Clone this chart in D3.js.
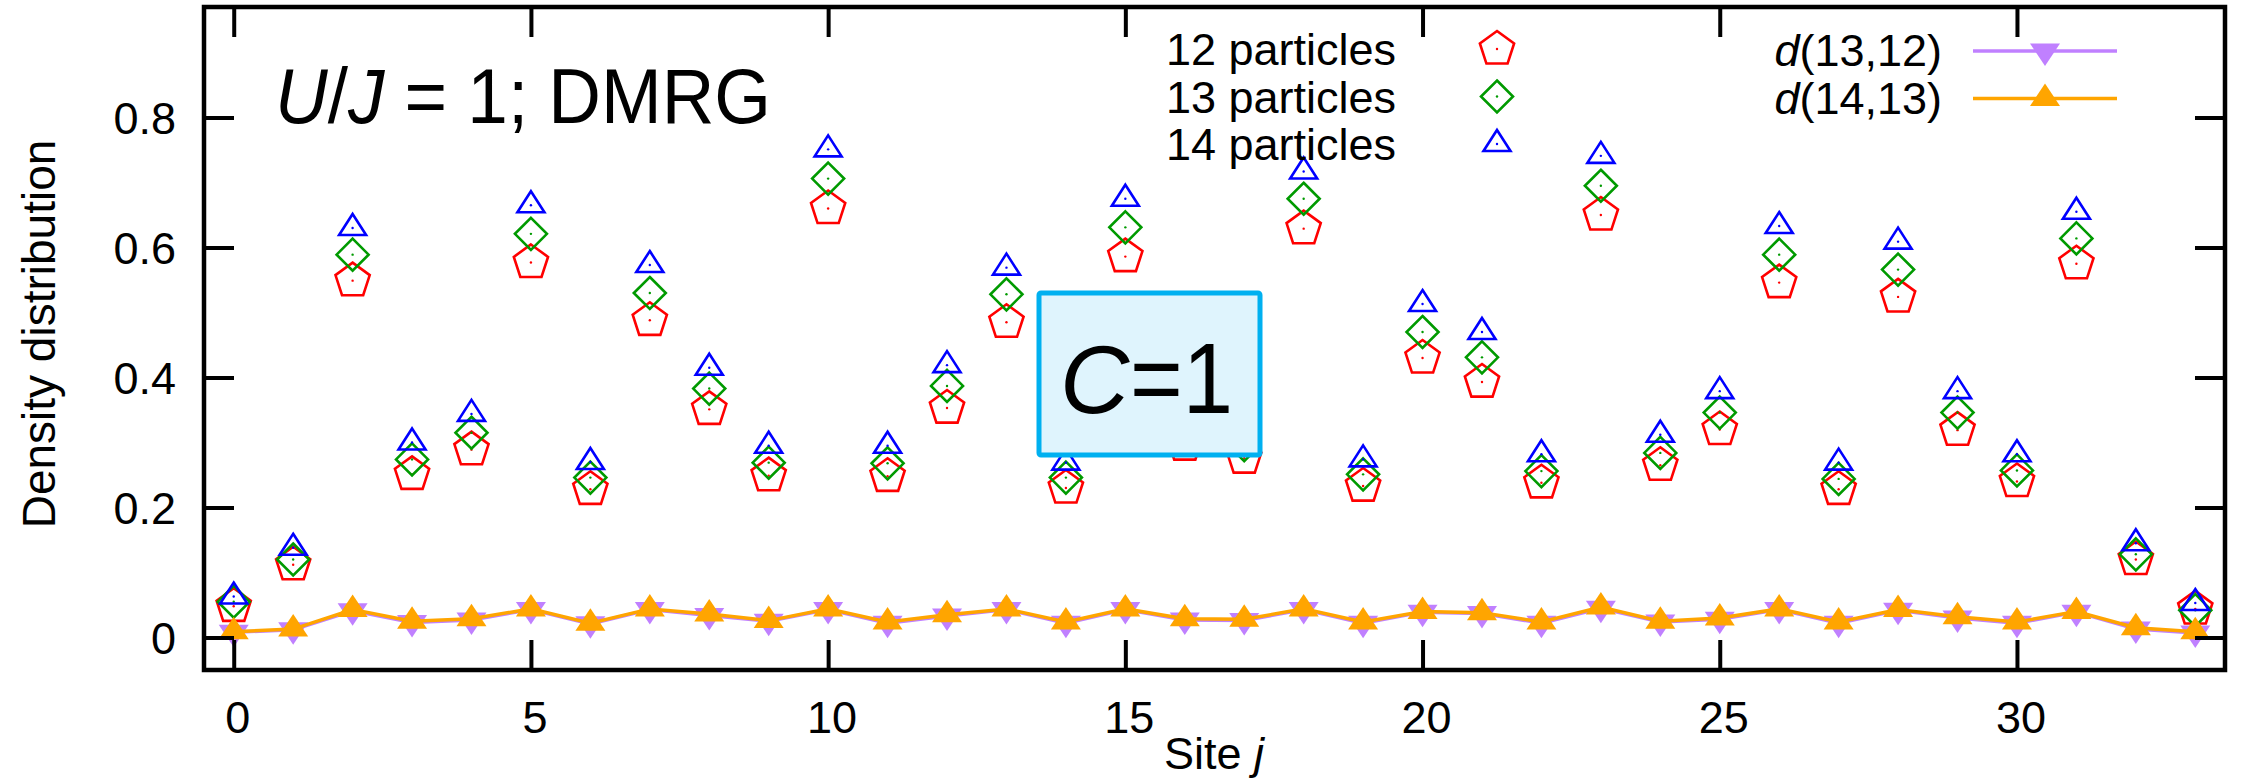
<!DOCTYPE html>
<html lang="en">
<head>
<meta charset="utf-8">
<title>Density distribution, U/J = 1</title>
<script src="https://d3js.org/d3.v7.min.js" charset="utf-8"></script>
<style>
  body { margin: 0; background: #fff; }
  text { font-family: "Liberation Sans", Arial, sans-serif; }
</style>
</head>
<body>
<script>

// site index j = 0..33
var sites = d3.range(0, 34);

// density for 12, 13, 14 particles
var n12 = [0.048, 0.112, 0.549, 0.251, 0.289, 0.577, 0.228, 0.488, 0.351, 0.249,
           0.660, 0.248, 0.353, 0.485, 0.230, 0.586, 0.296, 0.276, 0.629, 0.233,
           0.430, 0.393, 0.238, 0.650, 0.265, 0.320, 0.546, 0.228, 0.524, 0.319,
           0.240, 0.575, 0.120, 0.044];
var n13 = [0.055, 0.120, 0.589, 0.274, 0.315, 0.621, 0.246, 0.530, 0.383, 0.269,
           0.706, 0.268, 0.387, 0.528, 0.246, 0.631, 0.318, 0.296, 0.675, 0.251,
           0.470, 0.431, 0.256, 0.695, 0.284, 0.346, 0.589, 0.244, 0.566, 0.346,
           0.257, 0.614, 0.128, 0.042];
var n14 = [0.063, 0.138, 0.630, 0.300, 0.344, 0.665, 0.270, 0.573, 0.415, 0.295,
           0.751, 0.295, 0.419, 0.569, 0.269, 0.675, 0.340, 0.318, 0.717, 0.274,
           0.513, 0.470, 0.282, 0.741, 0.312, 0.379, 0.633, 0.269, 0.609, 0.379,
           0.282, 0.655, 0.145, 0.053];

// differences d(13,12) and d(14,13)
var d1312 = [0.008, 0.012, 0.041, 0.023, 0.027, 0.043, 0.021, 0.043, 0.034, 0.025,
             0.043, 0.022, 0.033, 0.043, 0.022, 0.043, 0.027, 0.026, 0.043, 0.022,
             0.039, 0.037, 0.022, 0.045, 0.024, 0.028, 0.043, 0.022, 0.042, 0.030,
             0.022, 0.039, 0.013, 0.007];
var d1413 = [0.009, 0.013, 0.043, 0.025, 0.029, 0.044, 0.022, 0.044, 0.036, 0.026,
             0.044, 0.024, 0.035, 0.044, 0.024, 0.044, 0.029, 0.028, 0.044, 0.024,
             0.040, 0.038, 0.024, 0.047, 0.025, 0.030, 0.044, 0.024, 0.043, 0.032,
             0.024, 0.040, 0.015, 0.009];

var xTicks = [0, 5, 10, 15, 20, 25, 30];
var yTicks = [0, 0.2, 0.4, 0.6, 0.8];

var W = 2241, H = 779;
var frame = {left: 204, right: 2225, top: 7, bottom: 670};

var svg = d3.select("body").append("svg")
    .attr("width", W)
    .attr("height", H);

var x = d3.scaleLinear().domain([-0.5, 33.5]).range([frame.left, frame.right]);
var y = d3.scaleLinear().domain([-0.05, 0.97]).range([frame.bottom, frame.top]);

// custom gnuplot-like symbols
function polySymbol(pts) {
    return {
        draw: function (ctx) {
            ctx.moveTo(pts[0][0], pts[0][1]);
            for (var i = 1; i < pts.length; i++) ctx.lineTo(pts[i][0], pts[i][1]);
            ctx.closePath();
        }
    };
}
var pentPts = d3.range(5).map(function (k) {
    var a = (-90 + k * 72) * Math.PI / 180;
    return [18 * Math.cos(a), 18 * Math.sin(a)];
});
var pentagon = polySymbol(pentPts);
var diamond = polySymbol([[0, -16], [16, 0], [0, 16], [-16, 0]]);
var triOpen = polySymbol([[0, -14], [13.5, 7], [-13.5, 7]]);
var triUp = polySymbol([[0, -15], [15, 7.5], [-15, 7.5]]);
var triDown = polySymbol([[0, 15], [15, -7.5], [-15, -7.5]]);

var series = [
    {name: "12 particles", vals: n12, color: "#ff0000", sym: pentagon},
    {name: "13 particles", vals: n13, color: "#009a00", sym: diamond},
    {name: "14 particles", vals: n14, color: "#0000ff", sym: triOpen}
];

var plot = svg.append("g");

// open markers
series.forEach(function (s) {
    var g = plot.append("g");
    g.selectAll("path")
        .data(sites)
        .enter().append("path")
        .attr("d", d3.symbol().type(s.sym))
        .attr("transform", function (j) { return "translate(" + x(j) + "," + y(s.vals[j]) + ")"; })
        .attr("fill", "none")
        .attr("stroke", s.color)
        .attr("stroke-width", 2.6)
        .attr("stroke-linejoin", "miter");
    g.selectAll("circle")
        .data(sites)
        .enter().append("circle")
        .attr("cx", function (j) { return x(j); })
        .attr("cy", function (j) { return y(s.vals[j]); })
        .attr("r", 1.2)
        .attr("fill", s.color);
});

// difference curves
var diffs = [
    {name: "13,12", vals: d1312, color: "#c080ff", sym: triDown},
    {name: "14,13", vals: d1413, color: "#ffa500", sym: triUp}
];

diffs.forEach(function (s) {
    var line = d3.line()
        .x(function (j) { return x(j); })
        .y(function (j) { return y(s.vals[j]); });
    plot.append("path")
        .datum(sites)
        .attr("d", line)
        .attr("fill", "none")
        .attr("stroke", s.color)
        .attr("stroke-width", 3.5);
    plot.append("g").selectAll("path")
        .data(sites)
        .enter().append("path")
        .attr("d", d3.symbol().type(s.sym))
        .attr("transform", function (j) { return "translate(" + x(j) + "," + y(s.vals[j]) + ")"; })
        .attr("fill", s.color);
});

// axes with inward ticks, mirrored on top and right
var axBottom = svg.append("g")
    .attr("transform", "translate(0," + frame.bottom + ")")
    .call(d3.axisBottom(x).tickValues(xTicks).tickSizeInner(-30).tickSizeOuter(0).tickFormat(""));
var axTop = svg.append("g")
    .attr("transform", "translate(0," + frame.top + ")")
    .call(d3.axisTop(x).tickValues(xTicks).tickSizeInner(-30).tickSizeOuter(0).tickFormat(""));
var axLeft = svg.append("g")
    .attr("transform", "translate(" + frame.left + ",0)")
    .call(d3.axisLeft(y).tickValues(yTicks).tickSizeInner(-30).tickSizeOuter(0).tickFormat(""));
var axRight = svg.append("g")
    .attr("transform", "translate(" + frame.right + ",0)")
    .call(d3.axisRight(y).tickValues(yTicks).tickSizeInner(-30).tickSizeOuter(0).tickFormat(""));

[axBottom, axTop, axLeft, axRight].forEach(function (a) {
    a.select(".domain").remove();
    a.selectAll(".tick line").attr("stroke", "#000").attr("stroke-width", 4);
});

// frame
svg.append("rect")
    .attr("x", frame.left)
    .attr("y", frame.top)
    .attr("width", frame.right - frame.left)
    .attr("height", frame.bottom - frame.top)
    .attr("fill", "none")
    .attr("stroke", "#000")
    .attr("stroke-width", 4.5);

// tick labels
svg.append("g").selectAll("text")
    .data(xTicks)
    .enter().append("text")
    .attr("x", function (d) { return x(d) + 4; })
    .attr("y", 733)
    .attr("text-anchor", "middle")
    .attr("font-size", 45)
    .text(function (d) { return d; });

svg.append("g").selectAll("text")
    .data(yTicks)
    .enter().append("text")
    .attr("x", 176)
    .attr("y", function (d) { return y(d) + 16; })
    .attr("text-anchor", "end")
    .attr("font-size", 45)
    .text(function (d) { return d; });

// axis titles
var xt = svg.append("text")
    .attr("x", 1164)
    .attr("y", 769)
    .attr("font-size", 45);
xt.append("tspan").text("Site ");
xt.append("tspan").attr("font-style", "italic").text("j");

svg.append("text")
    .attr("transform", "translate(55,334) rotate(-90)")
    .attr("text-anchor", "middle")
    .attr("font-size", 46)
    .text("Density distribution");

// legend for densities
series.forEach(function (s, i) {
    var ly = 49 + i * 47.5;
    svg.append("text")
        .attr("x", 1396)
        .attr("y", ly + 16)
        .attr("text-anchor", "end")
        .attr("font-size", 45)
        .text(s.name);
    svg.append("path")
        .attr("d", d3.symbol().type(s.sym))
        .attr("transform", "translate(1497," + ly + ")")
        .attr("fill", "none")
        .attr("stroke", s.color)
        .attr("stroke-width", 2.6);
    svg.append("circle")
        .attr("cx", 1497).attr("cy", ly).attr("r", 1.2)
        .attr("fill", s.color);
});

// legend for differences
diffs.forEach(function (s, i) {
    var ly = 51 + i * 47.5;
    var t = svg.append("text")
        .attr("x", 1942)
        .attr("y", ly + 15)
        .attr("text-anchor", "end")
        .attr("font-size", 45);
    t.append("tspan").attr("font-style", "italic").text("d");
    t.append("tspan").text("(" + s.name + ")");
    svg.append("line")
        .attr("x1", 1973).attr("x2", 2117)
        .attr("y1", ly).attr("y2", ly)
        .attr("stroke", s.color)
        .attr("stroke-width", 3.5);
    svg.append("path")
        .attr("d", d3.symbol().type(s.sym))
        .attr("transform", "translate(2045," + ly + ")")
        .attr("fill", s.color);
});

// annotation U/J = 1; DMRG
var ann = svg.append("text")
    .attr("x", 275)
    .attr("y", 123)
    .attr("font-family", "Lato, 'Open Sans', sans-serif")
    .attr("font-size", 78)
    .attr("textLength", 496)
    .attr("lengthAdjust", "spacingAndGlyphs");
ann.append("tspan").attr("font-style", "italic").text("U");
ann.append("tspan").text("/");
ann.append("tspan").attr("font-style", "italic").text("J");
ann.append("tspan").text(" = 1; DMRG");

// C=1 box
svg.append("rect")
    .attr("x", 1039)
    .attr("y", 293)
    .attr("width", 221)
    .attr("height", 162)
    .attr("rx", 2)
    .attr("fill", "#dff4fd")
    .attr("stroke", "#00b0f0")
    .attr("stroke-width", 5);

svg.append("text")
    .attr("x", 1060)
    .attr("y", 413)
    .attr("font-family", "Lato, 'Open Sans', sans-serif")
    .attr("font-style", "italic")
    .attr("font-size", 96)
    .text("C");
svg.append("text")
    .attr("x", 1130)
    .attr("y", 413)
    .attr("font-family", "Lato, 'Open Sans', sans-serif")
    .attr("font-size", 101)
    .attr("textLength", 103)
    .attr("lengthAdjust", "spacingAndGlyphs")
    .text("=1");

</script>
</body>
</html>
